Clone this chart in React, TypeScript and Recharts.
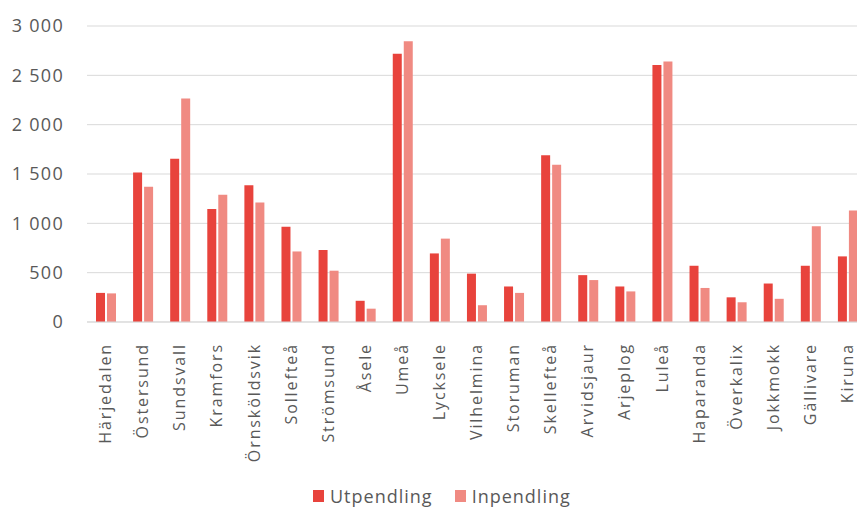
import { BarChart, Bar, XAxis, YAxis, CartesianGrid, Legend } from 'recharts'

const kommuner = [
  'Härjedalen', 'Östersund', 'Sundsvall', 'Kramfors', 'Örnsköldsvik', 'Sollefteå', 'Strömsund',
  'Åsele', 'Umeå', 'Lycksele', 'Vilhelmina', 'Storuman', 'Skellefteå', 'Arvidsjaur', 'Arjeplog',
  'Luleå', 'Haparanda', 'Överkalix', 'Jokkmokk', 'Gällivare', 'Kiruna',
]
const utpendling = [295, 1515, 1655, 1145, 1385, 965, 730, 215, 2720, 695, 490, 360, 1690, 475, 360, 2605, 570, 250, 390, 570, 665]
const inpendling = [290, 1370, 2265, 1290, 1210, 715, 520, 135, 2845, 845, 170, 295, 1595, 425, 310, 2640, 345, 200, 235, 970, 1130]
const yTicks = [0, 500, 1000, 1500, 2000, 2500, 3000]

const RED = '#E8433C'
const SALMON = '#F08A82'
const TEXT = '#595959'
const FONT = '"Open Sans", sans-serif'

const series = [
  { key: 'utpendling', label: 'Utpendling', color: RED },
  { key: 'inpendling', label: 'Inpendling', color: SALMON },
]

const data = kommuner.map((namn, i) => ({ namn, utpendling: utpendling[i], inpendling: inpendling[i] }))

// "3 000" style thousands separator
function fmt(n: number) {
  return String(n).replace(/\B(?=(\d{3})+(?!\d))/g, ' ')
}

function NameTick({ x, y, payload }: any) {
  return (
    <g transform={`translate(${x},${y})`}>
      <text
        transform="rotate(-90)"
        x={-13}
        y={0}
        dy="0.35em"
        textAnchor="end"
        fill={TEXT}
        fontFamily={FONT}
        fontSize={16}
        letterSpacing={1.9}
      >
        {payload.value}
      </text>
    </g>
  )
}

function ValueTick({ y, payload }: any) {
  return (
    <text x={64} y={y} dy="0.35em" textAnchor="end" fill={TEXT} fontFamily={FONT} fontSize={18} letterSpacing={1.3}>
      {fmt(payload.value)}
    </text>
  )
}

function LegendContent() {
  return (
    <div style={{ display: 'flex', gap: 22, fontFamily: FONT, fontSize: 18, lineHeight: '20px', color: TEXT, letterSpacing: 1 }}>
      {series.map((s) => (
        <span key={s.key} style={{ display: 'flex', alignItems: 'center', gap: 6 }}>
          <span style={{ width: 11, height: 12, background: s.color, display: 'inline-block' }} />
          {s.label}
        </span>
      ))}
    </div>
  )
}

export default function App() {
  return (
    <div style={{ position: 'fixed', left: 0, top: 0, width: 857, height: 508, overflow: 'hidden', background: '#fff' }}>
      <BarChart width={880} height={508} data={data} margin={{ top: 26, right: 14, left: 0, bottom: 0 }} barSize={9} barGap={2}>
        <CartesianGrid vertical={false} stroke="#d9d9d9" />
        <XAxis dataKey="namn" interval={0} height={186} axisLine={{ stroke: '#d9d9d9' }} tickLine={false} tick={<NameTick />} />
        <YAxis width={87} domain={[0, 3000]} ticks={yTicks} axisLine={false} tickLine={false} tick={<ValueTick />} />
        <Legend
          layout="horizontal"
          verticalAlign="middle"
          align="center"
          content={<LegendContent />}
          wrapperStyle={{ position: 'absolute', top: 486, left: 313, width: 300 }}
        />
        {series.map((s) => (
          <Bar key={s.key} dataKey={s.key} name={s.label} fill={s.color} isAnimationActive={false} />
        ))}
      </BarChart>
    </div>
  )
}
